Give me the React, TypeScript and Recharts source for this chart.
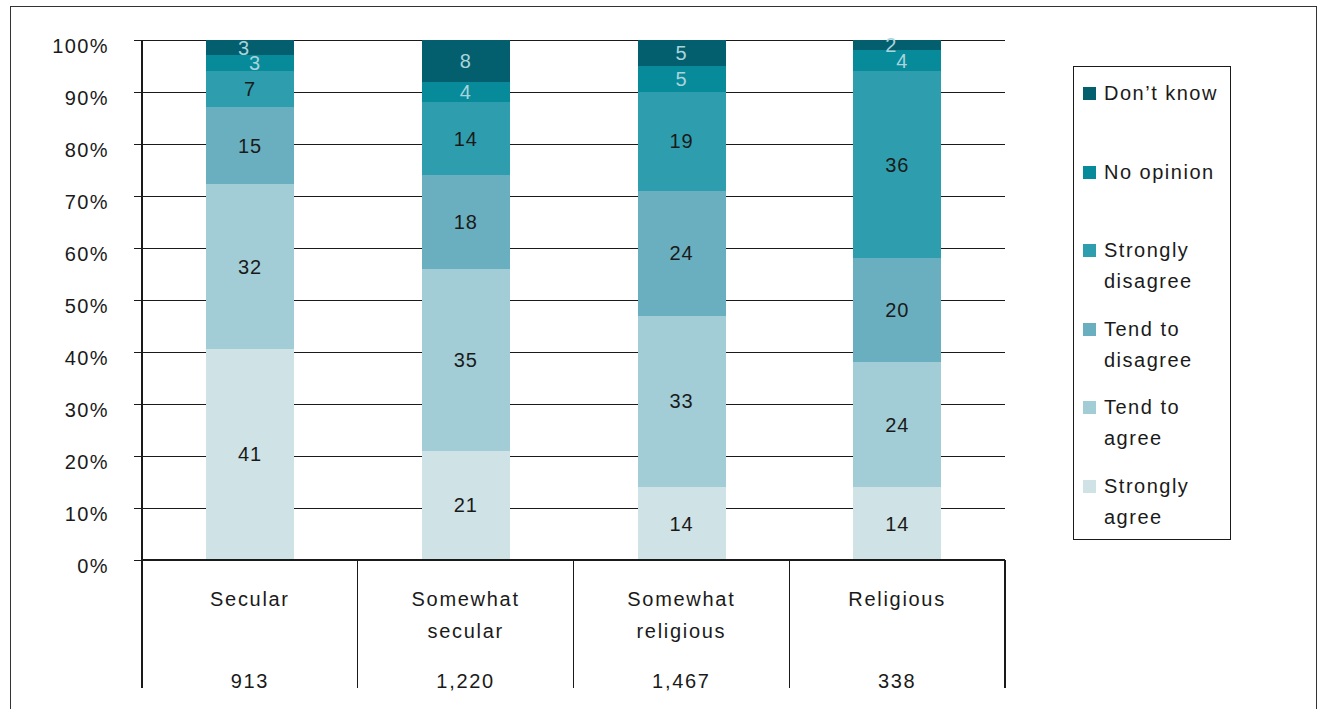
import { Bar, BarChart, CartesianGrid, LabelList, Legend, XAxis, YAxis } from "recharts";

const categories = ["Secular", "Somewhat secular", "Somewhat religious", "Religious"];
const sampleSizes = ["913", "1,220", "1,467", "338"];

const stronglyAgree = [41, 21, 14, 14];
const tendToAgree = [32, 35, 33, 24];
const tendToDisagree = [15, 18, 24, 20];
const stronglyDisagree = [7, 14, 19, 36];
const noOpinion = [3, 4, 5, 4];
const dontKnow = [3, 8, 5, 2];

const yTicks = [0, 10, 20, 30, 40, 50, 60, 70, 80, 90, 100];

const FONT = "'Liberation Sans', Arial, sans-serif";
const INK = "#1a1a1a";
const W = 1322;
const H = 709;
const MARGIN = { top: 40, right: 317, bottom: 20, left: 32 };
const PLOT_W = W - MARGIN.left - 110 - MARGIN.right;
const BAND = PLOT_W / categories.length;

const series = [
  { key: "sa", name: "Strongly agree", color: "#cfe2e6", values: stronglyAgree, text: INK },
  { key: "ta", name: "Tend to agree", color: "#a2cdd6", values: tendToAgree, text: INK },
  { key: "td", name: "Tend to disagree", color: "#6aafbf", values: tendToDisagree, text: INK },
  { key: "sd", name: "Strongly disagree", color: "#2e9eae", values: stronglyDisagree, text: INK },
  { key: "no", name: "No opinion", color: "#078a9a", values: noOpinion, text: "#a8d4dc" },
  { key: "dk", name: "Don\u2019t know", color: "#035f6e", values: dontKnow, text: "#a8d4dc" },
];

const data = categories.map((category, i) => {
  const row: Record<string, string | number> = { category, n: sampleSizes[i] };
  series.forEach((s) => (row[s.key] = s.values[i]));
  return row;
});

function makeLabel(s: (typeof series)[number]) {
  return (props: any) => {
    const vb = props.viewBox ?? props;
    const x = vb.x ?? props.x;
    const y = vb.y ?? props.y;
    const w = vb.width ?? props.width;
    const h = vb.height ?? props.height;
    const idx = props.index;
    const v = s.values[idx];
    let dx = 0;
    if (dontKnow[idx] <= 3) {
      if (s.key === "dk") dx = -6;
      if (s.key === "no") dx = 5;
    }
    const top = Math.min(y, y + h);
    return (
      <text
        x={x + w / 2 + dx}
        y={top + Math.abs(h) / 2}
        textAnchor="middle"
        dominantBaseline="central"
        fill={s.text}
        fontSize={20}
        fontFamily={FONT}
        letterSpacing={1}
      >
        {v}
      </text>
    );
  };
}

function CategoryTick(props: any) {
  const { x, y, index } = props;
  const words = categories[index].split(" ");
  return (
    <g>
      <line x1={x - BAND / 2} x2={x - BAND / 2} y1={y} y2={y + 128} stroke={INK} strokeWidth={1.2} />
      {index === categories.length - 1 && (
        <line x1={x + BAND / 2} x2={x + BAND / 2} y1={y} y2={y + 128} stroke={INK} strokeWidth={1.2} />
      )}
      {words.map((w, i) => (
        <text
          key={w}
          x={x}
          y={y + 39 + i * 32}
          textAnchor="middle"
          dominantBaseline="central"
          fill={INK}
          fontSize={20}
          fontFamily={FONT}
          letterSpacing={1.7}
        >
          {w}
        </text>
      ))}
      <text
        x={x}
        y={y + 121}
        textAnchor="middle"
        dominantBaseline="central"
        fill={INK}
        fontSize={20}
        fontFamily={FONT}
        letterSpacing={1.7}
      >
        {sampleSizes[index]}
      </text>
    </g>
  );
}

function PercentTick(props: any) {
  const { x, y, payload } = props;
  return (
    <text
      x={x}
      y={y + 6}
      textAnchor="end"
      dominantBaseline="central"
      fill={INK}
      fontSize={20}
      fontFamily={FONT}
      letterSpacing={1.4}
    >
      {`${Math.round(payload.value * 100)}%`}
    </text>
  );
}

function LegendBox() {
  const items = [...series].reverse();
  return (
    <div
      style={{
        width: 158,
        height: 474,
        border: `1.5px solid ${INK}`,
        boxSizing: "border-box",
        background: "#fff",
        padding: "11px 0 0 9px",
        fontFamily: FONT,
        fontSize: 20,
        letterSpacing: 1.5,
        color: INK,
        textAlign: "left",
      }}
    >
      {items.map((s) => {
        const words = s.name.split(" ");
        const lines =
          s.name === "Don\u2019t know" || s.name === "No opinion"
            ? [s.name]
            : s.name.startsWith("Tend")
            ? ["Tend to", words.slice(2).join(" ")]
            : [words[0], words.slice(1).join(" ")];
        return (
          <div key={s.key} style={{ display: "flex", alignItems: "flex-start", height: 78.5 }}>
            <span style={{ width: 13, height: 13, background: s.color, marginTop: 9, marginRight: 8, flex: "none" }} />
            <div style={{ lineHeight: "31px" }}>
              {lines.map((l) => (
                <div key={l}>{l}</div>
              ))}
            </div>
          </div>
        );
      })}
    </div>
  );
}

export default function App() {
  return (
    <div style={{ position: "fixed", left: 0, top: 0, width: W, height: H, background: "#fff" }}>
      <div
        style={{
          position: "absolute",
          left: 10,
          top: 6,
          width: 1307,
          height: 720,
          border: `1.5px solid #333`,
          boxSizing: "border-box",
        }}
      />
      <BarChart
        width={W}
        height={H}
        data={data}
        margin={MARGIN}
        stackOffset="expand"
        barSize={88}
        style={{ fontFamily: FONT, shapeRendering: "crispEdges" }}
      >
        <CartesianGrid horizontal vertical={false} stroke={INK} strokeOpacity={1} />
        <XAxis
          dataKey="category"
          height={129}
          tickLine={false}
          tickSize={0}
          tickMargin={0}
          axisLine={{ stroke: INK, strokeWidth: 1.2 }}
          tick={<CategoryTick />}
          interval={0}
        />
        <YAxis
          width={110}
          domain={[0, 1]}
          ticks={yTicks.map((t) => t / 100)}
          tickSize={8}
          tickMargin={25}
          axisLine={{ stroke: INK, strokeWidth: 1.2 }}
          tickLine={{ stroke: INK }}
          tick={<PercentTick />}
          interval={0}
        />
        <YAxis
          yAxisId="right"
          orientation="right"
          width={0}
          tick={false}
          tickLine={false}
          axisLine={{ stroke: INK, strokeWidth: 1.2 }}
        />
        {series.map((s) => (
          <Bar key={s.key} dataKey={s.key} name={s.name} stackId="a" fill={s.color} isAnimationActive={false}>
            <LabelList dataKey={s.key} content={makeLabel(s)} />
          </Bar>
        ))}
        <Legend
          layout="vertical"
          align="center"
          verticalAlign="middle"
          content={() => <LegendBox />}
          wrapperStyle={{ position: "absolute", left: 1073, top: 66, width: 158, height: 474 }}
        />
      </BarChart>
    </div>
  );
}
